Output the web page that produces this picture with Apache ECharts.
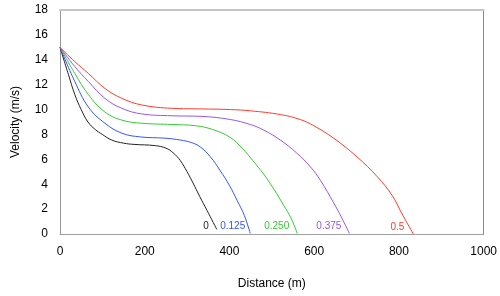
<!DOCTYPE html>
<html>
<head>
<meta charset="utf-8">
<script src="https://cdn.jsdelivr.net/npm/echarts@6/dist/echarts.min.js"></script>
<style>html,body{margin:0;padding:0;background:#fff}#c{width:500px;height:296px}</style>
</head>
<body>
<div id="c"></div>
<script>
// Series data: distance (m) and velocity (m/s)
var s0_d = [0, 20, 35, 50, 66, 83, 100, 122, 150, 175, 225, 250, 268, 284, 300, 314, 330, 347, 370];
var s0_v = [15.0, 12.8, 11.2, 10.0, 9.0, 8.4, 8.0, 7.55, 7.3, 7.2, 7.1, 6.9, 6.5, 5.9, 5.0, 4.1, 3.0, 1.9, 0.37];

var s1_d = [0, 35, 67, 106, 146, 190, 248, 284, 310, 331, 355, 378, 400, 418, 435, 449];
var s1_v = [15.0, 12.25, 10.2, 8.9, 8.1, 7.8, 7.7, 7.55, 7.35, 7.0, 6.2, 5.1, 3.9, 2.7, 1.5, 0.05];

var s2_d = [0, 35, 67, 106, 146, 193, 264, 320, 360, 400, 430, 455, 481, 505, 528, 545, 560];
var s2_v = [15.0, 12.9, 11.2, 9.8, 9.15, 8.9, 8.8, 8.7, 8.4, 7.8, 6.9, 5.9, 4.8, 3.6, 2.3, 1.3, 0.05];

var s3_d = [0, 35, 67, 106, 146, 193, 264, 335, 402, 449, 481, 520, 559, 591, 615, 646, 665, 683];
var s3_v = [15.0, 13.45, 12.25, 10.9, 10.1, 9.65, 9.5, 9.45, 9.2, 8.8, 8.35, 7.55, 6.5, 5.4, 4.3, 2.5, 1.3, 0.05];

var s4_d = [0, 35, 67, 106, 146, 193, 264, 335, 402, 449, 520, 567, 599, 646, 701, 749, 784, 806, 834];
var s4_v = [15.0, 13.85, 12.9, 11.7, 10.9, 10.37, 10.1, 10.05, 10.0, 9.9, 9.6, 9.2, 8.7, 7.7, 6.2, 4.6, 3.1, 1.7, 0.0];

var seriesNames = ['0', '0.125', '0.250', '0.375', '0.5'];
var seriesColors = ['#222222', '#3355ff', '#33cc33', '#9955ee', '#ff3b2b'];
var xTicks = [0, 200, 400, 600, 800, 1000];
var yTicks = [0, 2, 4, 6, 8, 10, 12, 14, 16, 18];

var allD = [s0_d, s1_d, s2_d, s3_d, s4_d];
var allV = [s0_v, s1_v, s2_v, s3_v, s4_v];
var labelDx = [-8, -5, -8, -8, -9];
var labelDy = [-3, -7, -7, -7, -7];

function pairs(d, v) { return d.map(function (x, i) { return [x, v[i]]; }); }

var font = 'Liberation Sans, Arial, sans-serif';
var series = seriesNames.map(function (name, i) {
  return {
    name: name,
    type: 'line',
    xAxisIndex: 0,
    yAxisIndex: 0,
    data: pairs(allD[i], allV[i]),
    smooth: 0.4,
    showSymbol: false,
    symbol: 'none',
    lineStyle: { color: seriesColors[i], width: 1 },
    itemStyle: { color: seriesColors[i] },
    endLabel: {
      show: true,
      distance: 0,
      align: 'right',
      verticalAlign: 'middle',
      offset: [labelDx[i], labelDy[i]],
      formatter: name,
      color: seriesColors[i],
      fontSize: 10,
      fontFamily: font
    },
    animation: false
  };
});

var chart = echarts.init(document.getElementById('c'));
chart.setOption({
  animation: false,
  grid: { left: 60, right: 16, top: 10, bottom: 62 },
  xAxis: [{
    type: 'value', min: xTicks[0], max: xTicks[xTicks.length - 1], interval: 200,
    name: 'Distance (m)', nameLocation: 'middle', nameGap: 44,
    nameTextStyle: { fontSize: 12, color: '#000', fontFamily: font },
    axisLine: { show: true, onZero: false, lineStyle: { color: '#a0a0a0', width: 1 } },
    axisTick: { show: false },
    splitLine: { show: false },
    axisLabel: { fontSize: 12, color: '#000', fontFamily: font, margin: 12,
      formatter: function (v) { return String(v); } }
  }, {
    type: 'value', position: 'top', min: xTicks[0], max: xTicks[xTicks.length - 1], interval: 200,
    axisLine: { show: true, onZero: false, lineStyle: { color: '#c4c4c4', width: 2 } },
    axisTick: { show: false }, axisLabel: { show: false }, splitLine: { show: false }
  }],
  yAxis: [{
    type: 'value', min: yTicks[0], max: yTicks[yTicks.length - 1], interval: 2,
    name: 'Velocity (m/s)', nameLocation: 'middle', nameGap: 38, nameRotate: 90,
    nameTextStyle: { fontSize: 12, color: '#000', fontFamily: font },
    axisLine: { show: true, onZero: false, lineStyle: { color: '#999999', width: 1 } },
    axisTick: { show: false },
    splitLine: { show: false },
    axisLabel: { fontSize: 12, color: '#000', fontFamily: font, margin: 12 }
  }, {
    type: 'value', position: 'right', min: yTicks[0], max: yTicks[yTicks.length - 1], interval: 2,
    axisLine: { show: true, onZero: false, lineStyle: { color: '#8a8a8a', width: 1 } },
    axisTick: { show: false }, axisLabel: { show: false }, splitLine: { show: false }
  }],
  series: series
});
</script>
</body>
</html>
